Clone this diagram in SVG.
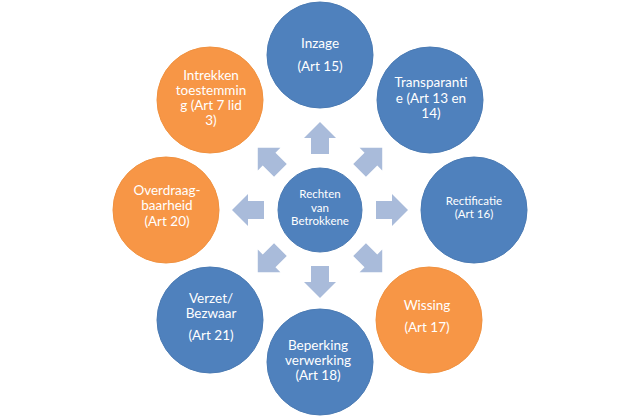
<svg xmlns="http://www.w3.org/2000/svg" width="640" height="418" viewBox="0 0 640 418">
<style>
.blue{fill:#4F81BD;stroke:#4A7AB3;stroke-width:1}
.orange{fill:#F79646;stroke:#F0913F;stroke-width:1}
.t{font-family:Lato,"Noto Sans","Liberation Sans",sans-serif;fill:#FFFFFF;text-anchor:middle;font-size:13.5px}
.s{font-size:11.5px}
.arr{fill:#A9BBDA}
</style>
<defs>
<path id="ar" d="M-9,-56 L9,-56 L9,-72 L16,-72 L0,-88 L-16,-72 L-9,-72 Z"/>
</defs>
<rect width="640" height="418" fill="#FFFFFF"/>
<g id="connectors" class="arr" transform="translate(320,210)">
<use href="#ar"/>
<use href="#ar" transform="rotate(45)"/>
<use href="#ar" transform="rotate(90)"/>
<use href="#ar" transform="rotate(135)"/>
<use href="#ar" transform="rotate(180)"/>
<use href="#ar" transform="rotate(225)"/>
<use href="#ar" transform="rotate(270)"/>
<use href="#ar" transform="rotate(315)"/>
</g>
<g id="center">
<circle class="blue" cx="320" cy="210" r="42"/>
<text class="t s" x="320" y="198">Rechten</text>
<text class="t s" x="320" y="212">van</text>
<text class="t s" x="320" y="225">Betrokkene</text>
</g>
<g id="inzage">
<circle class="blue" cx="320" cy="55" r="53"/>
<text class="t" x="320" y="48">Inzage</text>
<text class="t" x="320" y="71">(Art 15)</text>
</g>
<g id="transparantie">
<circle class="blue" cx="430" cy="100" r="53"/>
<text class="t" x="431" y="87">Transparanti</text>
<text class="t" x="431" y="103">e (Art 13 en</text>
<text class="t" x="431" y="118">14)</text>
</g>
<g id="rectificatie">
<circle class="blue" cx="474" cy="210" r="53"/>
<text class="t s" x="474" y="205">Rectificatie</text>
<text class="t s" x="474" y="218">(Art 16)</text>
</g>
<g id="wissing">
<circle class="orange" cx="429" cy="320" r="53"/>
<text class="t" x="427" y="310">Wissing</text>
<text class="t" x="427" y="332">(Art 17)</text>
</g>
<g id="beperking">
<circle class="blue" cx="320" cy="362" r="53"/>
<text class="t" x="318" y="350">Beperking</text>
<text class="t" x="318" y="365">verwerking</text>
<text class="t" x="318" y="380">(Art 18)</text>
</g>
<g id="verzet">
<circle class="blue" cx="210" cy="320" r="53"/>
<text class="t" x="211" y="303">Verzet/</text>
<text class="t" x="211" y="318">Bezwaar</text>
<text class="t" x="211" y="340">(Art 21)</text>
</g>
<g id="overdraagbaarheid">
<circle class="orange" cx="166" cy="210" r="53"/>
<text class="t" x="167" y="195">Overdraag-</text>
<text class="t" x="167" y="210">baarheid</text>
<text class="t" x="167" y="226">(Art 20)</text>
</g>
<g id="intrekken">
<circle class="orange" cx="210" cy="100" r="53"/>
<text class="t" x="211" y="80">Intrekken</text>
<text class="t" x="211" y="95">toestemmin</text>
<text class="t" x="211" y="110">g (Art 7 lid</text>
<text class="t" x="211" y="125">3)</text>
</g>
</svg>
